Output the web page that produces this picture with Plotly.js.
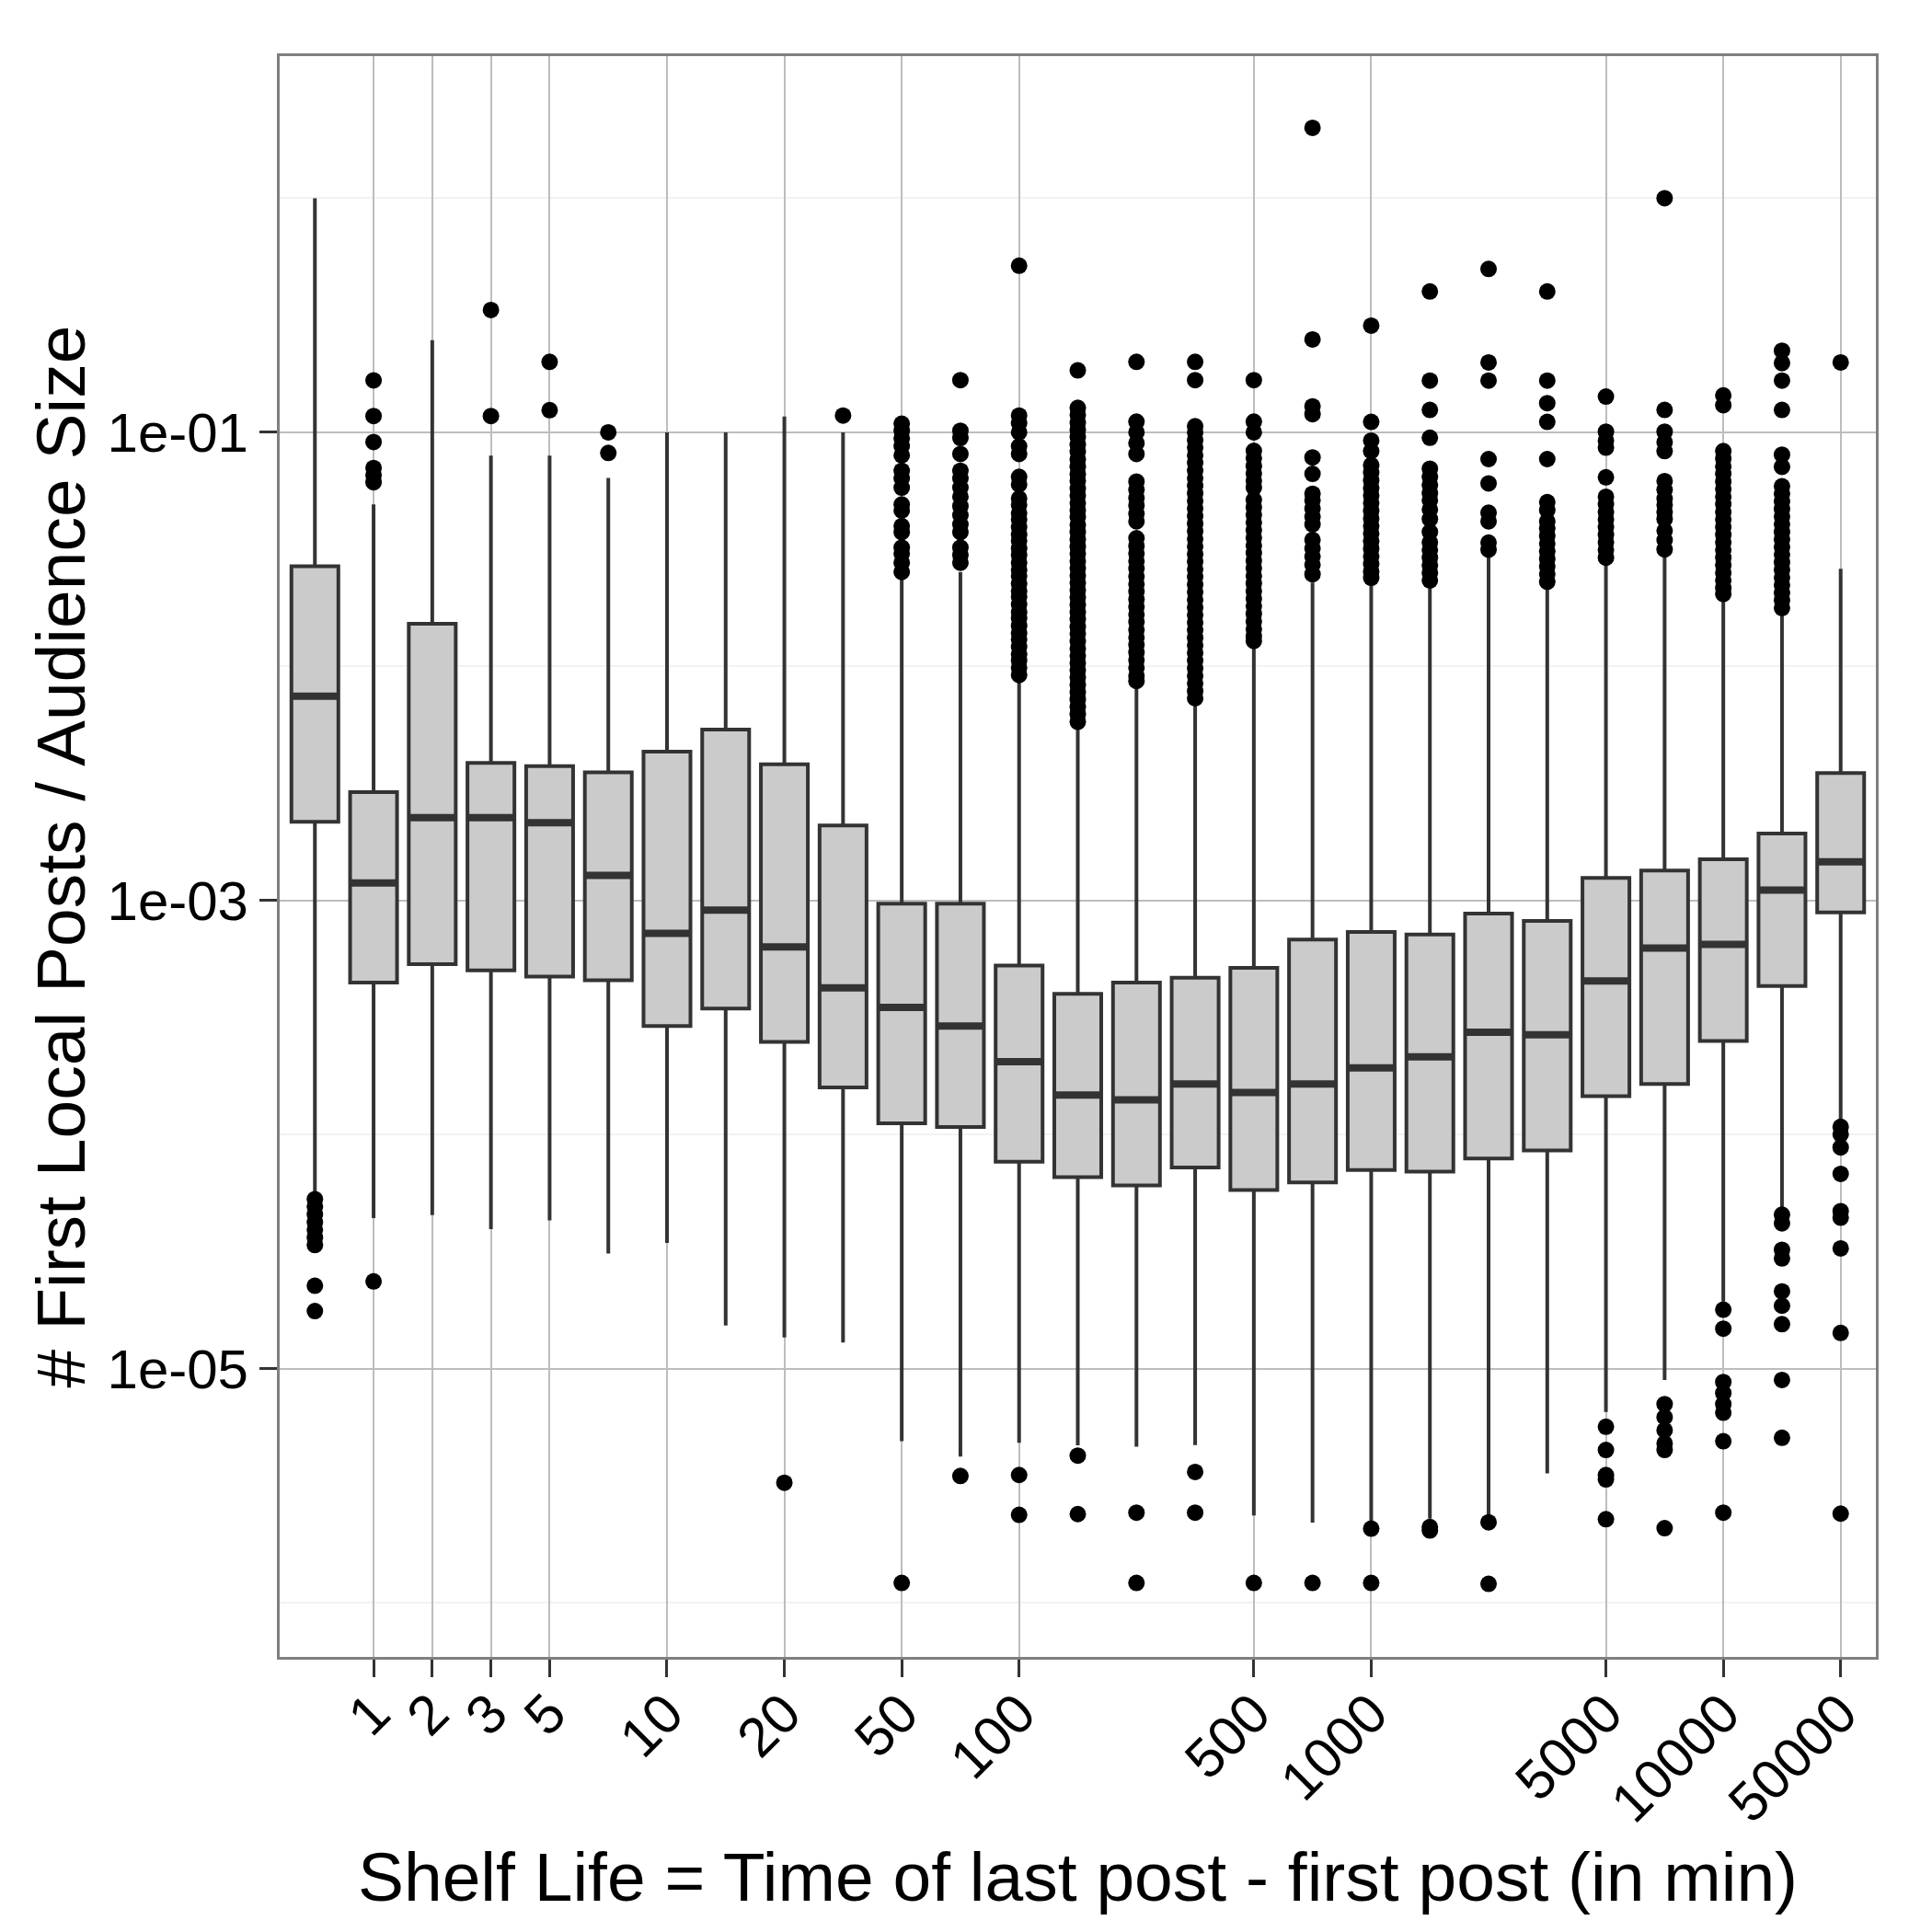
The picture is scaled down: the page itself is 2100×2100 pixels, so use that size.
<!DOCTYPE html>
<html>
<head>
<meta charset="utf-8">
<script src="https://cdn.plot.ly/plotly-3.0.1.min.js"></script>
<style>
  html, body { margin: 0; padding: 0; background: #fff; }
</style>
</head>
<body>
<div id="chart" style="width:2100px;height:2100px;"></div>
<script>
// shelf-life bins (minutes); only some of them carry a tick label
const bins = ['0', '1', '2', '3', '5', '7', '10', '15', '20', '30', '50', '70', '100', '150',
  '200', '300', '500', '700', '1000', '1500', '2000', '3000', '5000', '7000', '10000', '20000', '50000'];
const labelledBins = ['1', '2', '3', '5', '10', '20', '50', '100', '500', '1000', '5000', '10000', '50000'];

// box statistics as log10 of the ratio
const lowerLog = [-4.26, -4.356, -4.343, -4.403, -4.366, -4.507, -4.462, -4.814, -4.866, -4.887, -5.309, -5.374, -5.315, -5.326,
  -5.332, -5.325, -5.626, -5.656, -5.65, -5.64, -5.627, -5.446, -5.184, -5.047, -4.712, -4.316, -3.942];
const q1Log = [-2.663, -3.350, -3.271, -3.298, -3.324, -3.340, -3.535, -3.461, -3.603, -3.798, -3.951, -3.967, -4.115, -4.181,
  -4.216, -4.140, -4.236, -4.203, -4.150, -4.157, -4.101, -4.067, -3.835, -3.783, -3.599, -3.365, -3.050];
const medianLog = [-2.127, -2.924, -2.645, -2.645, -2.667, -2.892, -3.140, -3.040, -3.198, -3.372, -3.456, -3.535, -3.688, -3.830,
  -3.851, -3.783, -3.819, -3.783, -3.714, -3.667, -3.562, -3.573, -3.343, -3.202, -3.187, -2.955, -2.834];
const q3Log = [-1.572, -2.536, -1.817, -2.412, -2.425, -2.452, -2.364, -2.269, -2.418, -2.679, -3.013, -3.013, -3.277, -3.398,
  -3.350, -3.329, -3.287, -3.166, -3.134, -3.145, -3.055, -3.087, -2.903, -2.871, -2.823, -2.713, -2.455];
const upperLog = [0.0, -1.308, -0.606, -1.0995, -1.0995, -1.195, -1.0, -1.0, -0.932, -1.0, -1.629, -1.596, -2.055, -2.258,
  -2.088, -2.153, -1.904, -1.642, -1.636, -1.659, -1.516, -1.659, -1.553, -1.531, -1.704, -1.771, -1.583];

// outliers per bin (log10), dense columns listed point by point
const outliersLog = [
  [-4.275, -4.307, -4.340, -4.373, -4.406, -4.439, -4.471, -4.645, -4.753],
  [-0.778, -0.930, -1.041, -1.152, -1.183, -1.213, -4.626],
  [],
  [-0.477, -0.930],
  [-0.699, -0.905],
  [-1.0, -1.088],
  [],
  [],
  [-5.486],
  [-0.928],
  [-0.963, -0.993, -1.026, -1.059, -1.098, -1.164, -1.197, -1.236, -1.308, -1.334, -1.400, -1.426, -1.492, -1.518, -1.557, -1.596, -5.914],
  [-0.777, -0.993, -1.024, -1.092, -1.164, -1.197, -1.236, -1.275, -1.315, -1.354, -1.393, -1.426, -1.492, -1.524, -1.557, -5.457],
  [-0.288, -0.928, -0.961, -1.0, -1.059, -1.092, -1.190, -1.223, -1.282, -1.31, -1.345, -1.372, -1.405, -1.437, -1.463, -1.496,
    -1.524, -1.557, -1.588, -1.613, -1.646, -1.678, -1.702, -1.735, -1.768, -1.794, -1.826, -1.858, -1.884, -1.916, -1.948,
    -1.975, -2.005, -2.036, -5.453, -5.623],
  [-0.735, -0.895, -0.925, -0.958, -0.99, -1.02, -1.052, -1.083, -1.115, -1.146, -1.178, -1.207, -1.24, -1.27, -1.302, -1.333,
    -1.362, -1.395, -1.425, -1.457, -1.488, -1.518, -1.55, -1.58, -1.612, -1.643, -1.674, -1.705, -1.736, -1.768, -1.798,
    -1.83, -1.86, -1.892, -1.923, -1.954, -1.985, -2.016, -2.047, -2.078, -2.11, -2.14, -2.172, -2.203, -2.236, -5.370, -5.620],
  [-0.699, -0.954, -1.0, -1.046, -1.092, -1.210, -1.245, -1.28, -1.312, -1.347, -1.380, -1.452, -1.485, -1.517, -1.55, -1.582,
    -1.615, -1.648, -1.68, -1.713, -1.745, -1.778, -1.81, -1.843, -1.876, -1.908, -1.94, -1.973, -2.005, -2.04, -2.062,
    -5.614, -5.914],
  [-0.699, -0.777, -0.974, -1.0, -1.033, -1.065, -1.098, -1.13, -1.163, -1.196, -1.228, -1.26, -1.293, -1.325, -1.358, -1.39,
    -1.422, -1.455, -1.487, -1.52, -1.552, -1.585, -1.617, -1.65, -1.682, -1.715, -1.748, -1.78, -1.812, -1.845, -1.877,
    -1.91, -1.942, -1.975, -2.007, -2.04, -2.072, -2.105, -2.135, -5.440, -5.614],
  [-0.777, -0.954, -1.0, -1.079, -1.11, -1.143, -1.175, -1.207, -1.236, -1.288, -1.32, -1.352, -1.385, -1.418, -1.45, -1.483,
    -1.515, -1.548, -1.58, -1.613, -1.645, -1.678, -1.71, -1.742, -1.775, -1.808, -1.84, -1.87, -1.891, -5.914],
  [0.301, -0.603, -0.889, -0.922, -1.107, -1.177, -1.262, -1.29, -1.325, -1.36, -1.393, -1.459, -1.495, -1.53, -1.565, -1.606, -5.914],
  [-0.544, -0.955, -1.035, -1.080, -1.14, -1.172, -1.205, -1.238, -1.27, -1.302, -1.335, -1.368, -1.4, -1.432, -1.465, -1.497,
    -1.53, -1.562, -1.595, -1.621, -5.682, -5.914],
  [-0.398, -0.779, -0.904, -1.023, -1.155, -1.19, -1.225, -1.26, -1.29, -1.33, -1.37, -1.425, -1.47, -1.502, -1.535, -1.568,
    -1.6, -1.632, -5.675, -5.69],
  [-0.302, -0.701, -0.779, -1.114, -1.218, -1.343, -1.380, -1.471, -1.501, -5.655, -5.918],
  [-0.398, -0.779, -0.875, -0.955, -1.114, -1.298, -1.332, -1.38, -1.41, -1.442, -1.475, -1.508, -1.54, -1.572, -1.605, -1.638],
  [-0.847, -0.997, -1.035, -1.065, -1.192, -1.275, -1.307, -1.34, -1.372, -1.405, -1.437, -1.47, -1.502, -1.535,
    -5.247, -5.346, -5.453, -5.472, -5.642],
  [0.0, -0.904, -0.997, -1.042, -1.080, -1.208, -1.245, -1.283, -1.31, -1.34, -1.37, -1.42, -1.46, -1.50,
    -5.150, -5.206, -5.262, -5.318, -5.346, -5.680],
  [-0.842, -0.884, -1.08, -1.112, -1.145, -1.177, -1.21, -1.242, -1.275, -1.307, -1.34, -1.372, -1.405, -1.437, -1.47, -1.502,
    -1.535, -1.567, -1.6, -1.632, -1.665, -1.69, -4.747, -4.828, -5.056, -5.103, -5.150, -5.187, -5.309, -5.614],
  [-0.651, -0.704, -0.779, -0.904, -1.095, -1.147, -1.23, -1.262, -1.295, -1.327, -1.36, -1.392, -1.425, -1.457, -1.49, -1.522,
    -1.555, -1.587, -1.62, -1.652, -1.685, -1.717, -1.75, -4.341, -4.378, -4.491, -4.528, -4.669, -4.730, -4.809, -5.047, -5.294],
  [-0.701, -3.966, -3.998, -4.054, -4.167, -4.326, -4.354, -4.485, -4.846, -5.618]
];

const yTickVals = [1e-1, 1e-3, 1e-5];
const yTickText = ['1e-01', '1e-03', '1e-05'];
const yMinorVals = [1, 1e-2, 1e-4, 1e-6];

const toRatio = v => Math.pow(10, v);
const FONT = 'Liberation Sans, Arial, Helvetica, sans-serif';
const DARK = '#333333';

const outX = [];
const outY = [];
outliersLog.forEach((pts, i) => {
  pts.forEach(v => { outX.push(bins[i]); outY.push(toRatio(v)); });
});

const boxes = {
  type: 'box',
  x: bins,
  q1: q1Log.map(toRatio),
  median: medianLog.map(toRatio),
  q3: q3Log.map(toRatio),
  lowerfence: lowerLog.map(toRatio),
  upperfence: upperLog.map(toRatio),
  width: 0.8,
  boxpoints: false,
  whiskerwidth: 0,
  fillcolor: '#cbcbcb',
  line: { color: DARK, width: 4 },
  hoverinfo: 'skip'
};

// thicker median bar on top of each box
const medians = {
  type: 'scatter',
  mode: 'markers',
  x: bins,
  y: medianLog.map(toRatio),
  marker: { symbol: 'line-ew', size: 35, line: { color: DARK, width: 8 } },
  hoverinfo: 'skip'
};

const outliers = {
  type: 'scatter',
  mode: 'markers',
  x: outX,
  y: outY,
  marker: { size: 18, color: '#000000' },
  hoverinfo: 'skip'
};

const layout = {
  width: 2100,
  height: 2100,
  margin: { l: 304, r: 61, t: 61, b: 299 },
  paper_bgcolor: '#ffffff',
  plot_bgcolor: '#ffffff',
  showlegend: false,
  font: { family: FONT, size: 60, color: '#000000' },
  xaxis: {
    type: 'category',
    categoryorder: 'array',
    categoryarray: bins,
    range: [-0.6, 26.6],
    tickmode: 'array',
    tickvals: labelledBins,
    ticktext: labelledBins,
    tickangle: -45,
    ticks: 'outside',
    ticklen: 19,
    tickwidth: 3,
    tickcolor: DARK,
    ticklabelstandoff: -20,
    tickfont: { family: FONT, size: 60, color: '#000000' },
    showgrid: true,
    gridcolor: '#bdbdbd',
    gridwidth: 2,
    showline: true,
    mirror: true,
    linecolor: '#7f7f7f',
    linewidth: 3,
    zeroline: false,
    automargin: false,
    title: {
      text: 'Shelf Life = Time of last post - first post (in min)',
      font: { family: FONT, size: 75, color: '#000000' },
      standoff: 22
    }
  },
  yaxis: {
    type: 'log',
    range: [-6.23, 0.607],
    tickmode: 'array',
    tickvals: yTickVals,
    ticktext: yTickText,
    ticks: 'outside',
    ticklen: 19,
    tickwidth: 3,
    tickcolor: DARK,
    tickfont: { family: FONT, size: 60, color: '#000000' },
    showgrid: true,
    gridcolor: '#bdbdbd',
    gridwidth: 2,
    minor: {
      tickmode: 'array',
      tickvals: yMinorVals,
      ticks: '',
      showgrid: true,
      gridcolor: '#f2f2f2',
      gridwidth: 2
    },
    showline: true,
    mirror: true,
    linecolor: '#7f7f7f',
    linewidth: 3,
    zeroline: false,
    automargin: false,
    title: {
      text: '# First Local Posts / Audience Size',
      font: { family: FONT, size: 75, color: '#000000' },
      standoff: 0
    }
  }
};

Plotly.newPlot('chart', [boxes, medians, outliers], layout, { staticPlot: true, displayModeBar: false });
</script>
</body>
</html>
